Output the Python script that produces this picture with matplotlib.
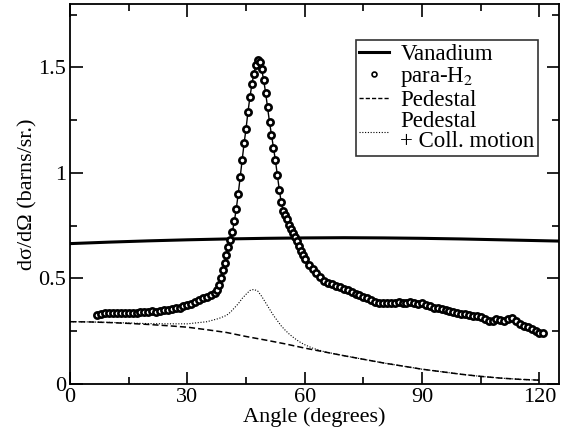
import matplotlib
matplotlib.use('Agg')
import matplotlib.pyplot as plt
from matplotlib.lines import Line2D
from matplotlib.ticker import MultipleLocator

plt.rcParams['font.family'] = ['Liberation Serif', 'DejaVu Serif']
plt.rcParams['mathtext.fontset'] = 'stix'

# para-H2 data
h2_x = list(range(7, 38)) + [37.5 + 0.5 * i for i in range(46)] + list(range(61, 122))
h2_y = [0.327, 0.333, 0.335, 0.336, 0.334, 0.338, 0.336, 0.334, 0.337, 0.335,
        0.338, 0.340, 0.339, 0.342, 0.345, 0.343, 0.347, 0.350, 0.352, 0.355,
        0.358, 0.362, 0.368, 0.374, 0.380, 0.388, 0.397, 0.405, 0.413, 0.420, 0.432,
        0.445, 0.47, 0.50, 0.54, 0.575, 0.61, 0.65, 0.68, 0.72, 0.77,
        0.83, 0.90, 0.98, 1.06, 1.14, 1.21, 1.29, 1.36, 1.42, 1.47,
        1.51, 1.535, 1.525, 1.49, 1.44, 1.38, 1.31, 1.24, 1.18, 1.12,
        1.06, 0.99, 0.92, 0.86, 0.82, 0.80, 0.78, 0.755, 0.735, 0.715,
        0.695, 0.675, 0.655, 0.63, 0.61, 0.59,
        0.565, 0.545, 0.525, 0.505, 0.49, 0.48, 0.472, 0.465, 0.458, 0.452,
        0.445, 0.437, 0.428, 0.42, 0.413, 0.405, 0.397, 0.39, 0.386, 0.385,
        0.386, 0.384, 0.385, 0.387, 0.386, 0.384, 0.387, 0.382, 0.379, 0.382,
        0.376, 0.37, 0.362, 0.358, 0.355, 0.35, 0.345, 0.343, 0.336, 0.333,
        0.33, 0.326, 0.322, 0.32, 0.315, 0.31, 0.30, 0.298, 0.31, 0.305,
        0.298, 0.31, 0.312, 0.298, 0.285, 0.275, 0.268, 0.262, 0.25, 0.24, 0.24]

# vanadium
van_x = [0, 10, 20, 30, 40, 50, 60, 70, 80, 90, 100, 110, 120, 125]
van_y = [0.665, 0.672, 0.678, 0.683, 0.687, 0.690, 0.692, 0.693, 0.692, 0.690,
         0.687, 0.683, 0.679, 0.677]

# pedestal
ped_x = list(range(0, 121, 5))
ped_y = [0.295, 0.294, 0.291, 0.287, 0.282, 0.276, 0.269, 0.257, 0.244, 0.225,
         0.208, 0.19, 0.17, 0.152, 0.134, 0.117, 0.10, 0.085, 0.07, 0.058,
         0.046, 0.036, 0.028, 0.022, 0.018]

# pedestal + collective motion
coll_x = [0, 5, 10, 15, 20, 25, 30, 35, 38, 40, 41, 42, 43, 44, 45, 46, 47, 48, 49,
          50, 51, 52, 53, 54, 55, 56, 57, 58, 59, 60, 62, 65, 70, 75, 80, 85, 90,
          95, 100, 105, 110, 115, 120]
coll_y = [0.295, 0.294, 0.292, 0.289, 0.286, 0.285, 0.285, 0.295, 0.31, 0.325,
          0.34, 0.36, 0.38, 0.405, 0.425, 0.443, 0.448, 0.44, 0.415, 0.385,
          0.355, 0.325, 0.30, 0.275, 0.255, 0.237, 0.222, 0.208, 0.196, 0.186,
          0.17, 0.153, 0.134, 0.117, 0.10, 0.085, 0.07, 0.058, 0.046, 0.036,
          0.028, 0.022, 0.018]

fig = plt.figure(figsize=(5.71, 4.36), dpi=100)
ax = fig.add_axes([0.1226, 0.1193, 0.8564, 0.8715])

ax.plot(van_x, van_y, color='black', lw=2.2)
ax.plot(h2_x, h2_y, color='black', lw=1.0, marker='o', ms=4.5, mfc='white',
        mec='black', mew=1.9)
ax.plot(ped_x, ped_y, color='black', lw=1.1, ls=(0, (4, 2)))
ax.plot(coll_x, coll_y, color='black', lw=0.8, ls=(0, (1, 1.5)))

ax.set_xlim(0, 125)
ax.set_ylim(0, 1.8)
ax.set_xticks([0, 30, 60, 90, 120])
ax.set_yticks([0, 0.5, 1, 1.5])
ax.set_yticklabels(['0', '0.5', '1', '1.5'])
ax.xaxis.set_minor_locator(MultipleLocator(15))
ax.yaxis.set_minor_locator(MultipleLocator(0.25))
ax.tick_params(which='both', direction='in', top=True, right=True, labelsize=16,
               width=1.2, pad=3)
ax.tick_params(which='major', length=9)
ax.tick_params(which='minor', length=5)
for s in ax.spines.values():
    s.set_linewidth(1.3)

ax.set_xlabel('Angle (degrees)', fontsize=16, labelpad=0)
ax.set_ylabel('dσ/dΩ (barns/sr.)', fontsize=16, labelpad=0)

handles = [Line2D([], [], color='black', lw=2.2),
           Line2D([], [], ls='none', marker='o', ms=3.5, mfc='white', mec='black', mew=1.2),
           Line2D([], [], color='black', lw=1.0, ls=(0, (3, 1.5))),
           Line2D([], [], color='black', lw=0.8, ls=(0, (1, 1.5)))]
labels = ['Vanadium', 'para-H$_2$', 'Pedestal', 'Pedestal\n+ Coll. motion']
leg = ax.legend(handles, labels, loc='upper right', bbox_to_anchor=(0.957, 0.905),
                fontsize=16.5, frameon=True, fancybox=False, edgecolor='black',
                handlelength=1.3, handletextpad=0.5, borderpad=0.15,
                labelspacing=0.02, borderaxespad=0)
leg.get_frame().set_linewidth(1.2)
for t in leg.get_texts():
    t.set_multialignment('left')
    t.set_linespacing(0.95)

fig.savefig('out.png', dpi=100)
